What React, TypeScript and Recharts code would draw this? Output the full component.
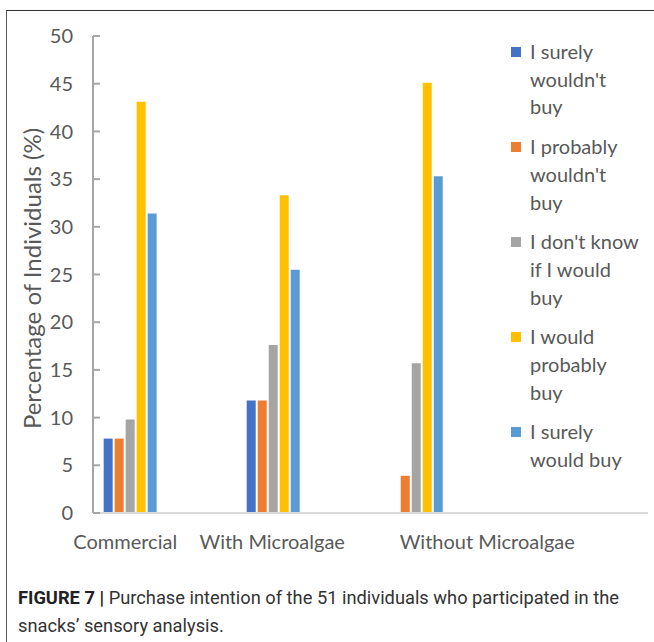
import { BarChart, Bar, XAxis, YAxis } from "recharts";

// purchase intention, % of 51 panelists
const categories = ["Commercial", "With Microalgae", "Without Microalgae"];
const surelyNot = [7.8, 11.8, 0];
const probablyNot = [7.8, 11.8, 3.9];
const dontKnow = [9.8, 17.6, 15.7];
const probablyYes = [43.1, 33.3, 45.1];
const surelyYes = [31.4, 25.5, 35.3];
const yTicks = [0, 5, 10, 15, 20, 25, 30, 35, 40, 45, 50];

const series = [
  { key: "surelyNot", values: surelyNot, color: "#4472C4", lines: ["I surely", "wouldn't", "buy"] },
  { key: "probablyNot", values: probablyNot, color: "#ED7D31", lines: ["I probably", "wouldn't", "buy"] },
  { key: "dontKnow", values: dontKnow, color: "#A5A5A5", lines: ["I don't know", "if I would", "buy"] },
  { key: "probablyYes", values: probablyYes, color: "#FFC000", lines: ["I would", "probably", "buy"] },
  { key: "surelyYes", values: surelyYes, color: "#5B9BD5", lines: ["I surely", "would buy"] },
];

const data = categories.map((category, i) => {
  const row: Record<string, number | string> = { idx: i, category };
  series.forEach((s) => {
    row[s.key] = s.values[i];
  });
  return row;
});

// category labels sit a little off the bar groups
const labelShift = [-5, -1, 71];

const FONT = "Lato, 'Open Sans', sans-serif";
const TEXT = "#595959";

const CategoryTick = (props: any) => {
  const { x, y, payload } = props;
  const i = payload.value as number;
  return (
    <text
      x={x + labelShift[i]}
      y={y}
      dy={28}
      textAnchor="middle"
      fill={TEXT}
      fontSize={20}
      fontFamily={FONT}
    >
      {categories[i]}
    </text>
  );
};

const renderYLabel = (props: any) => {
  const vb = props.viewBox;
  const cy = vb.y + vb.height / 2 + 4;
  return (
    <text
      x={31}
      y={cy}
      transform={`rotate(-90 31 ${cy})`}
      textAnchor="middle"
      dominantBaseline="central"
      fill={TEXT}
      fontSize={24}
      fontFamily={FONT}
    >
      Percentage of Individuals (%)
    </text>
  );
};

const App = () => {
  return (
    <div
      style={{
        position: "absolute",
        left: 0,
        top: 0,
        width: 654,
        height: 642,
        background: "#fff",
        overflow: "hidden",
      }}
    >
      <div
        style={{
          position: "absolute",
          left: 6,
          top: 10,
          width: 660,
          height: 640,
          borderTop: "1.5px solid #333",
          borderLeft: "1.5px solid #555",
        }}
      />
      <div style={{ position: "absolute", left: 0, top: 0 }}>
        <BarChart
          width={654}
          height={560}
          data={data}
          margin={{ top: 36, right: 6, bottom: 17, left: 33 }}
          barGap={2}
        >
          <XAxis
            dataKey="idx"
            type="number"
            domain={[-0.26, 3.62]}
            ticks={[0, 1, 2]}
            interval={0}
            allowDataOverflow
            height={30}
            tickLine={false}
            axisLine={{ stroke: "#d9d9d9", strokeWidth: 2 }}
            tick={<CategoryTick />}
          />
          <YAxis
            width={60}
            domain={[0, 50]}
            ticks={yTicks}
            interval={0}
            tickSize={-7}
            tickMargin={27}
            axisLine={{ stroke: "#a6a6a6", strokeWidth: 2 }}
            tickLine={{ stroke: "#a6a6a6", strokeWidth: 2 }}
            tick={{ fill: TEXT, fontSize: 20, fontFamily: FONT }}
            label={renderYLabel}
          />
          {series.map((s) => (
            <Bar
              key={s.key}
              dataKey={s.key}
              name={s.lines.join(" ")}
              fill={s.color}
              barSize={9}
              isAnimationActive={false}
            />
          ))}
        </BarChart>
      </div>
      <div
        style={{
          position: "absolute",
          left: 511,
          top: 38,
          fontFamily: FONT,
          fontSize: 20,
          color: TEXT,
        }}
      >
        {series.map((s) => (
          <div key={s.key} style={{ display: "flex", marginBottom: 12 }}>
            <div
              style={{
                width: 10,
                height: 10,
                background: s.color,
                marginTop: 9,
                marginRight: 9,
              }}
            />
            <div style={{ lineHeight: "27.7px" }}>
              {s.lines.map((line) => (
                <div key={line}>{line}</div>
              ))}
            </div>
          </div>
        ))}
      </div>
      <div
        style={{
          position: "absolute",
          left: 18,
          top: 584,
          fontFamily: "Roboto, 'Liberation Sans', sans-serif",
          fontSize: 18.3,
          lineHeight: "28px",
          color: "#333",
        }}
      >
        <span style={{ fontWeight: 700, color: "#222" }}>FIGURE 7 |</span>{" "}
        Purchase intention of the 51 individuals who participated in the
        <br />
        snacks’ sensory analysis.
      </div>
    </div>
  );
};

export default App;
